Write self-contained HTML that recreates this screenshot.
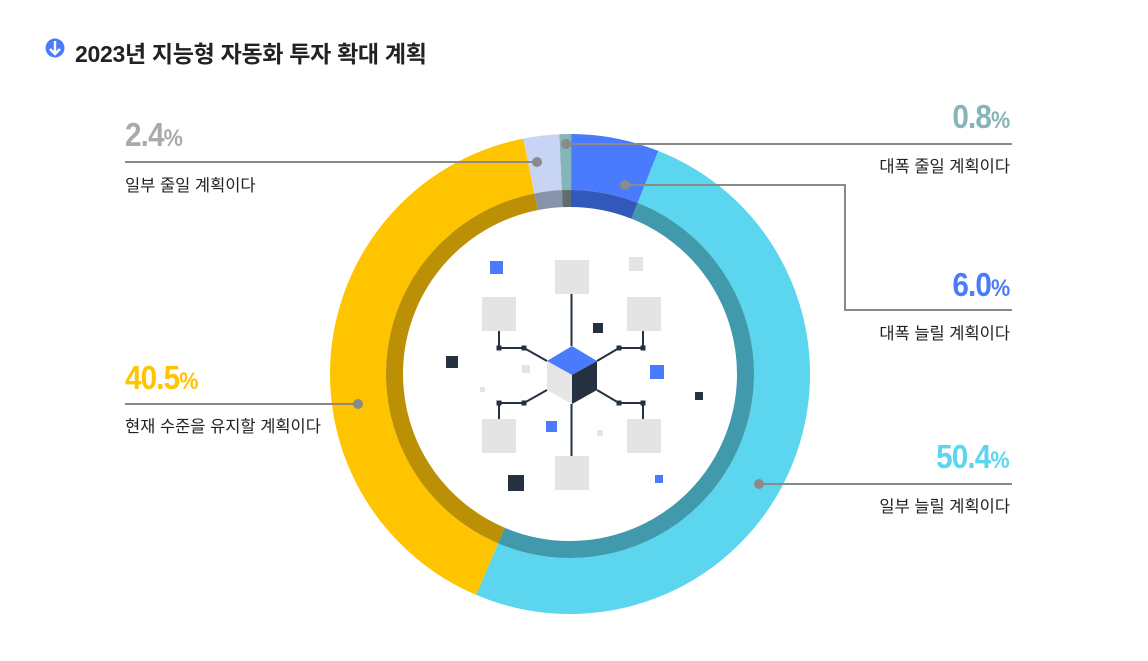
<!DOCTYPE html>
<html><head><meta charset="utf-8"><style>
html,body{margin:0;padding:0;background:#fff;}
body{width:1148px;height:661px;position:relative;overflow:hidden;font-family:"Liberation Sans","Noto Sans CJK KR",sans-serif;}
.t{position:absolute;font-size:16.5px;color:#222;white-space:nowrap;line-height:1;}
.n{position:absolute;font-weight:bold;font-size:33px;line-height:1;white-space:nowrap;letter-spacing:-1px;transform:scaleX(0.9);}
.n small{font-size:24px;letter-spacing:0;}
.r{transform-origin:right center;}
.l{transform-origin:left center;}
</style></head><body>
<svg width="1148" height="661" style="position:absolute;left:0;top:0">
<circle cx="55" cy="48" r="9.5" fill="#4a7bfc"/>
<path d="M55 41 V54 M50 49 L55 54 L60 49" stroke="#fff" stroke-width="2.4" fill="none"/>
<g transform="rotate(-90 570 374)" fill="none">
<circle cx="570" cy="374" r="212" stroke-width="56" pathLength="100" stroke="#4a7bfc" stroke-dasharray="6 94" stroke-dashoffset="0"/>
<circle cx="570" cy="374" r="212" stroke-width="56" pathLength="100" stroke="#5bd6ee" stroke-dasharray="50.4 49.6" stroke-dashoffset="-6"/>
<circle cx="570" cy="374" r="212" stroke-width="56" pathLength="100" stroke="#ffc400" stroke-dasharray="40.5 59.5" stroke-dashoffset="-56.4"/>
<circle cx="570" cy="374" r="212" stroke-width="56" pathLength="100" stroke="#c8d4f4" stroke-dasharray="2.4 97.6" stroke-dashoffset="-96.9"/>
<circle cx="570" cy="374" r="212" stroke-width="56" pathLength="100" stroke="#85b5b8" stroke-dasharray="0.8 99.2" stroke-dashoffset="-99.3"/>
<circle cx="570" cy="374" r="175.5" stroke-width="17" pathLength="100" stroke="#3358bb" stroke-dasharray="6 94" stroke-dashoffset="0"/>
<circle cx="570" cy="374" r="175.5" stroke-width="17" pathLength="100" stroke="#4199ac" stroke-dasharray="50.4 49.6" stroke-dashoffset="-6"/>
<circle cx="570" cy="374" r="175.5" stroke-width="17" pathLength="100" stroke="#bb9005" stroke-dasharray="40.5 59.5" stroke-dashoffset="-56.4"/>
<circle cx="570" cy="374" r="175.5" stroke-width="17" pathLength="100" stroke="#8793a8" stroke-dasharray="2.4 97.6" stroke-dashoffset="-96.9"/>
<circle cx="570" cy="374" r="175.5" stroke-width="17" pathLength="100" stroke="#5f6c70" stroke-dasharray="0.8 99.2" stroke-dashoffset="-99.3"/>
</g>
<g stroke="#8a8a8a" stroke-width="2" fill="none">
<path d="M566 144 H1012"/>
<path d="M625 185 H845 V310 H1012"/>
<path d="M759 484 H1012"/>
<path d="M125 162 H537"/>
<path d="M125 404 H358"/>
</g>
<g fill="#8a8a8a">
<circle cx="566" cy="144" r="5"/><circle cx="625" cy="185" r="5"/><circle cx="759" cy="484" r="5"/><circle cx="537" cy="162" r="5"/><circle cx="358" cy="404" r="5"/>
</g>
<g stroke="#253040" stroke-width="2" fill="none">
<path d="M571.5 294 V346 M571.5 404 V456"/>
<path d="M499 331 V348 H524 L547 361"/>
<path d="M643 331 V348 H619 L597 361"/>
<path d="M499 419 V403 H524 L547 390"/>
<path d="M643 419 V403 H619 L597 390"/>
</g>
<g fill="#e4e4e4">
<rect x="555" y="260" width="34" height="34"/><rect x="555" y="456" width="34" height="34"/>
<rect x="482" y="297" width="34" height="34"/><rect x="627" y="297" width="34" height="34"/>
<rect x="482" y="419" width="34" height="34"/><rect x="627" y="419" width="34" height="34"/>
<rect x="629" y="257" width="14" height="14"/><rect x="522" y="365" width="8" height="8"/>
<rect x="480" y="387" width="5" height="5"/><rect x="597" y="430" width="6" height="6"/>
</g>
<g fill="#253040">
<rect x="496.5" y="345.5" width="5" height="5"/><rect x="521.5" y="345.5" width="5" height="5"/>
<rect x="616.5" y="345.5" width="5" height="5"/><rect x="640.5" y="345.5" width="5" height="5"/>
<rect x="496.5" y="400.5" width="5" height="5"/><rect x="521.5" y="400.5" width="5" height="5"/>
<rect x="616.5" y="400.5" width="5" height="5"/><rect x="640.5" y="400.5" width="5" height="5"/>
<rect x="593" y="323" width="10" height="10"/><rect x="446" y="356" width="12" height="12"/>
<rect x="695" y="392" width="8" height="8"/><rect x="508" y="475" width="16" height="16"/>
</g>
<g fill="#4a7bfc">
<rect x="490" y="261" width="13" height="13"/><rect x="650" y="365" width="14" height="14"/>
<rect x="546" y="421" width="11" height="11"/><rect x="655" y="475" width="8" height="8"/>
</g>
<polygon points="572,346 597,361 572,375 547,361" fill="#4a7bfc"/>
<polygon points="547,361 572,375 572,404 547,390" fill="#e6e6e6"/>
<polygon points="597,361 572,375 572,404 597,390" fill="#253040"/>
</svg>
<div style="position:absolute;left:75px;top:35px;font-size:23px;font-weight:bold;color:#222;white-space:nowrap;letter-spacing:-0.3px">2023년 지능형 자동화 투자 확대 계획</div>

<div class="n r" style="right:138px;top:100px;color:#85b5b8">0.8<small>%</small></div>
<div class="t" style="right:138px;top:159px">대폭 줄일 계획이다</div>
<div class="n r" style="right:138px;top:268px;color:#4a7bfc">6.0<small>%</small></div>
<div class="t" style="right:138px;top:326px">대폭 늘릴 계획이다</div>
<div class="n r" style="right:138px;top:440px;color:#5bd6ee">50.4<small>%</small></div>
<div class="t" style="right:138px;top:499px">일부 늘릴 계획이다</div>
<div class="n l" style="left:125px;top:118px;color:#aaaaaa">2.4<small>%</small></div>
<div class="t" style="left:125px;top:178px">일부 줄일 계획이다</div>
<div class="n l" style="left:125px;top:361px;color:#ffc400">40.5<small>%</small></div>
<div class="t" style="left:125px;top:419px">현재 수준을 유지할 계획이다</div>
</body></html>
